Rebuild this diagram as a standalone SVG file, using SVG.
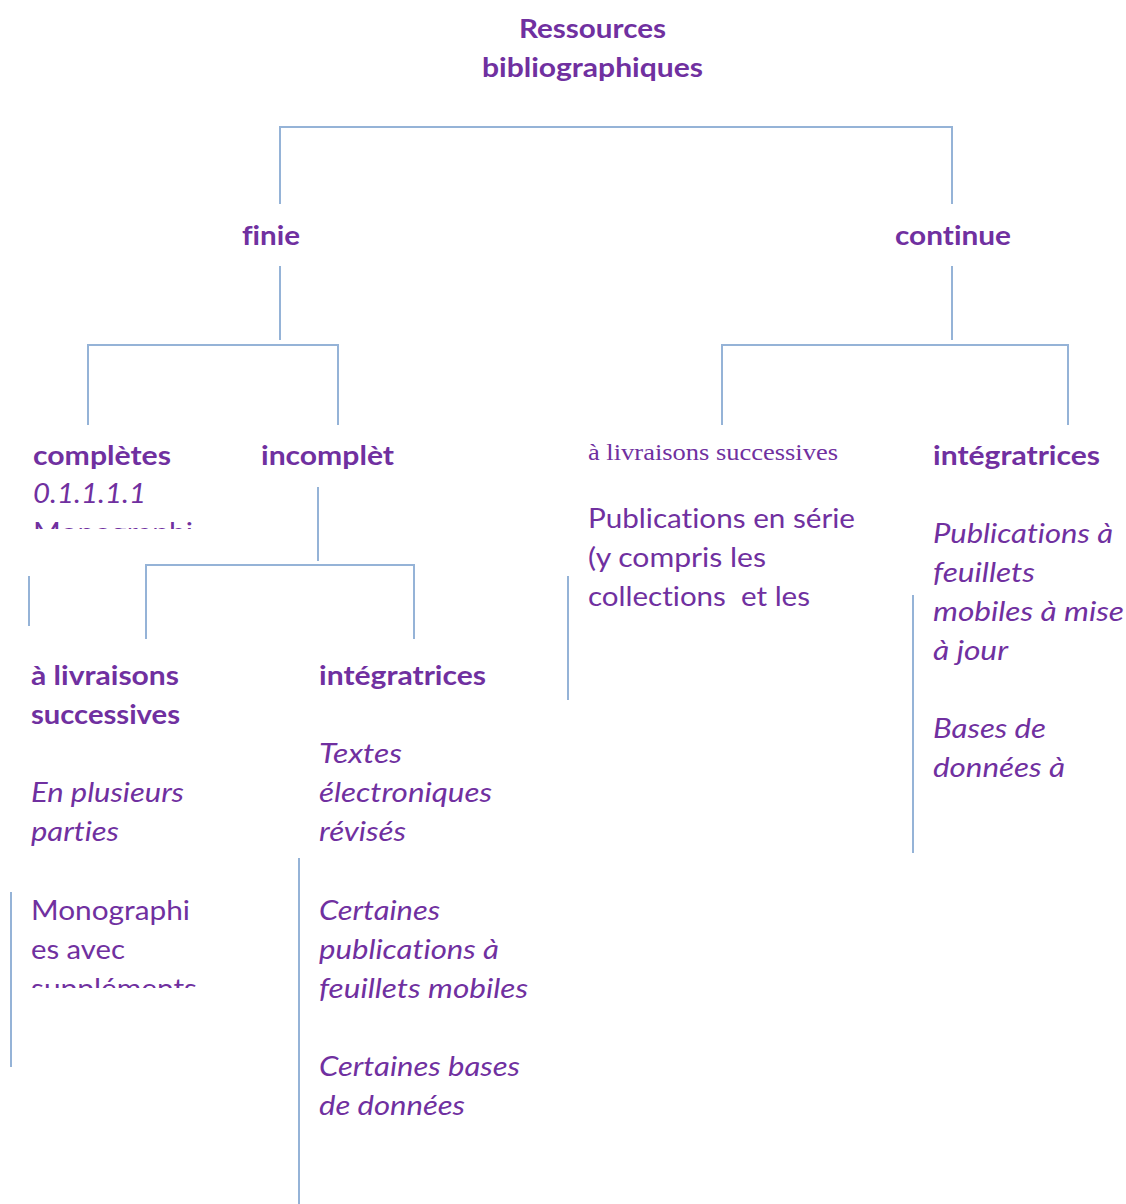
<svg xmlns="http://www.w3.org/2000/svg" width="1126" height="1204" viewBox="0 0 1126 1204">
<style>
text{font-family:Lato,"Open Sans","Liberation Sans",sans-serif;font-size:27px;fill:#7030A0;font-variant-ligatures:none}
.b{font-weight:bold}
.i{font-style:italic}
.s{font-family:"Liberation Serif","DejaVu Serif",serif;font-size:23px}
.c line,.c path{stroke:#95B3D7;stroke-width:2;fill:none}
</style>
<defs>
<clipPath id="clip1"><rect x="0" y="480" width="300" height="49"/></clipPath>
<clipPath id="clip2"><rect x="0" y="900" width="290" height="88"/></clipPath>
</defs>
<rect width="1126" height="1204" fill="#fff"/>
<g class="c" id="connectors">
<path d="M280,204 V127 H952 V204"/>
<line x1="280" y1="266" x2="280" y2="340"/>
<line x1="952" y1="266" x2="952" y2="340"/>
<path d="M88,425 V345 H338 V425"/>
<path d="M722,425 V345 H1068 V425"/>
<line x1="318" y1="487" x2="318" y2="561"/>
<path d="M146,639 V565 H414 V639"/>
<line x1="29" y1="576" x2="29" y2="626"/>
<line x1="11" y1="892" x2="11" y2="1067"/>
<line x1="299" y1="858" x2="299" y2="1204"/>
<line x1="568" y1="576" x2="568" y2="700"/>
<line x1="913" y1="595" x2="913" y2="853"/>
</g>
<g id="root">
<text class="b" x="519" y="38" textLength="147" lengthAdjust="spacingAndGlyphs">Ressources</text>
<text class="b" x="482" y="77" textLength="221" lengthAdjust="spacingAndGlyphs">bibliographiques</text>
</g>
<g id="finie"><text class="b" x="242" y="245" textLength="58" lengthAdjust="spacingAndGlyphs">finie</text></g>
<g id="continue"><text class="b" x="895" y="245" textLength="116" lengthAdjust="spacingAndGlyphs">continue</text></g>
<g id="completes">
<text class="b" x="33" y="465" textLength="138" lengthAdjust="spacingAndGlyphs">complètes</text>
<text class="i" x="33" y="503" textLength="113" lengthAdjust="spacingAndGlyphs">0.1.1.1.1</text>
<text x="33" y="542" clip-path="url(#clip1)" textLength="160" lengthAdjust="spacingAndGlyphs">Monographi</text>
</g>
<g id="incomplet"><text class="b" x="261" y="465" textLength="133" lengthAdjust="spacingAndGlyphs">incomplèt</text></g>
<g id="livraisons-finie">
<text class="b" x="31" y="685" textLength="148" lengthAdjust="spacingAndGlyphs">à livraisons</text>
<text class="b" x="31" y="724" textLength="149" lengthAdjust="spacingAndGlyphs">successives</text>
<text class="i" x="31" y="802" textLength="153" lengthAdjust="spacingAndGlyphs">En plusieurs</text>
<text class="i" x="31" y="841" textLength="88" lengthAdjust="spacingAndGlyphs">parties</text>
<g clip-path="url(#clip2)">
<text x="31" y="920" textLength="159" lengthAdjust="spacingAndGlyphs">Monographi</text>
<text x="31" y="959" textLength="94" lengthAdjust="spacingAndGlyphs">es avec</text>
<text x="31" y="998" textLength="166" lengthAdjust="spacingAndGlyphs">suppléments</text>
</g>
</g>
<g id="integratrices-finie">
<text class="b" x="319" y="685" textLength="167" lengthAdjust="spacingAndGlyphs">intégratrices</text>
<text class="i" x="319" y="763" textLength="83" lengthAdjust="spacingAndGlyphs">Textes</text>
<text class="i" x="319" y="802" textLength="173" lengthAdjust="spacingAndGlyphs">électroniques</text>
<text class="i" x="319" y="841" textLength="87" lengthAdjust="spacingAndGlyphs">révisés</text>
<text class="i" x="319" y="920" textLength="121" lengthAdjust="spacingAndGlyphs">Certaines</text>
<text class="i" x="319" y="959" textLength="180" lengthAdjust="spacingAndGlyphs">publications à</text>
<text class="i" x="319" y="998" textLength="209" lengthAdjust="spacingAndGlyphs">feuillets mobiles</text>
<text class="i" x="319" y="1076" textLength="201" lengthAdjust="spacingAndGlyphs">Certaines bases</text>
<text class="i" x="319" y="1115" textLength="146" lengthAdjust="spacingAndGlyphs">de données</text>
</g>
<g id="livraisons-continue">
<text class="s" x="588" y="460" textLength="250" lengthAdjust="spacingAndGlyphs">à livraisons successives</text>
<text x="588" y="528" textLength="267" lengthAdjust="spacingAndGlyphs">Publications en série</text>
<text x="588" y="567" textLength="178" lengthAdjust="spacingAndGlyphs">(y compris les</text>
<text x="588" y="606" textLength="222" lengthAdjust="spacingAndGlyphs" xml:space="preserve">collections  et les</text>
</g>
<g id="integratrices-continue">
<text class="b" x="933" y="465" textLength="167" lengthAdjust="spacingAndGlyphs">intégratrices</text>
<text class="i" x="933" y="543" textLength="180" lengthAdjust="spacingAndGlyphs">Publications à</text>
<text class="i" x="933" y="582" textLength="102" lengthAdjust="spacingAndGlyphs">feuillets</text>
<text class="i" x="933" y="621" textLength="191" lengthAdjust="spacingAndGlyphs">mobiles à mise</text>
<text class="i" x="933" y="660" textLength="75" lengthAdjust="spacingAndGlyphs">à jour</text>
<text class="i" x="933" y="738" textLength="113" lengthAdjust="spacingAndGlyphs">Bases de</text>
<text class="i" x="933" y="777" textLength="132" lengthAdjust="spacingAndGlyphs">données à</text>
</g>
</svg>
